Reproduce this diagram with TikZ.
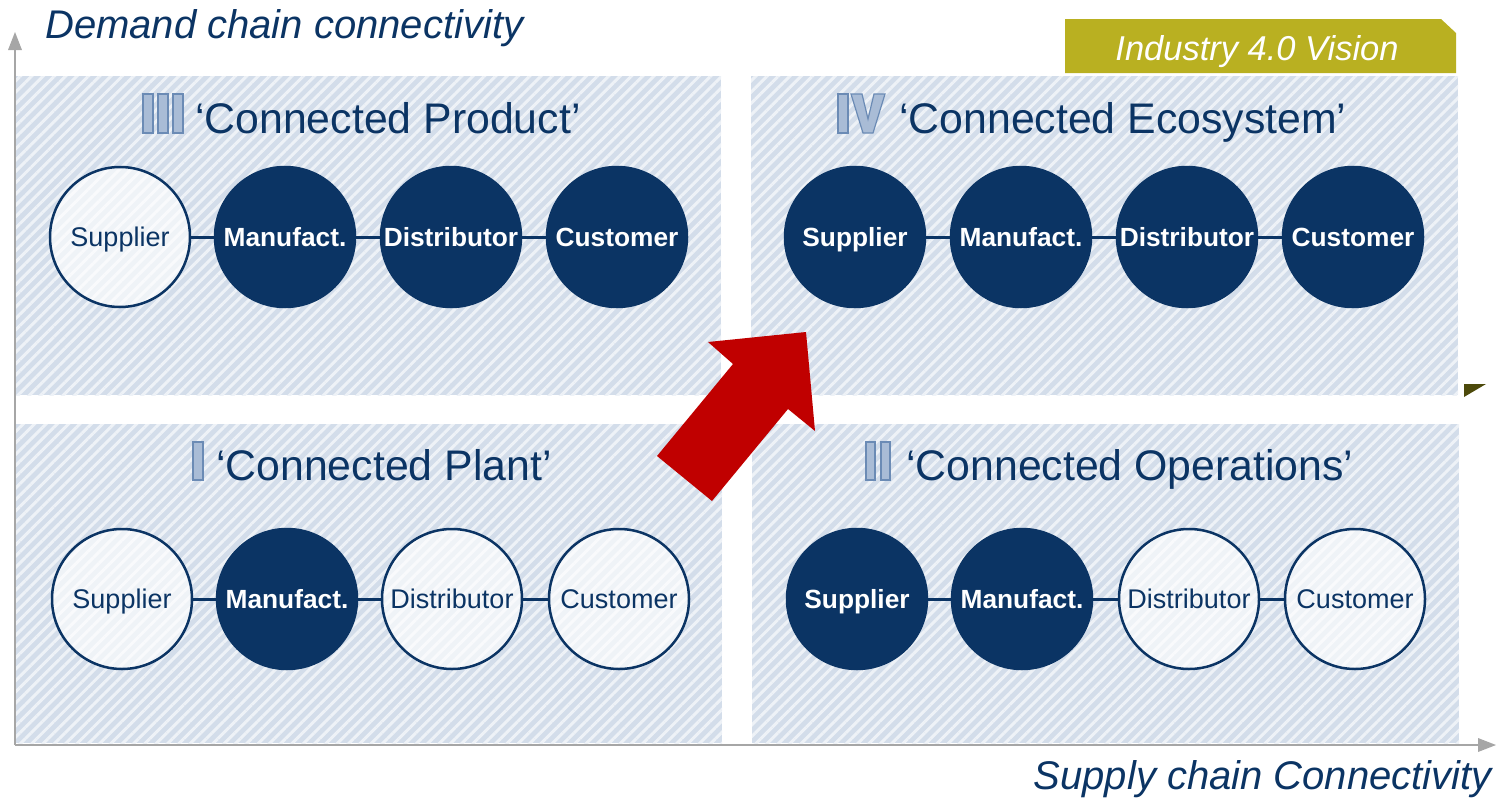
\documentclass[tikz,border=0pt]{standalone}
\usepackage{fontspec}
\setmainfont{Liberation Sans}
\usetikzlibrary{patterns.meta}
\definecolor{navy}{HTML}{0B3464}
\definecolor{panelbg}{HTML}{D3DDEA}
\definecolor{stripe}{HTML}{EEF2F7}
\definecolor{numfill}{HTML}{A9BCD6}
\definecolor{numdraw}{HTML}{6B8BB5}
\definecolor{olive}{HTML}{B9B021}
\definecolor{darkolive}{HTML}{4D4A0B}
\definecolor{axisgray}{HTML}{A6A6A6}
\definecolor{arrowred}{HTML}{C00000}
\tikzset{
  panel/.style={fill=panelbg, postaction={pattern={Lines[angle=45,distance=8pt,line width=3pt]}, pattern color=stripe}},
  offc/.style={circle, minimum size=140pt, inner sep=0pt, text height=19pt, text depth=0pt, draw=navy, line width=2.5pt, fill=white, fill opacity=0.65, text opacity=1, text=navy, font=\fontsize{27}{30}\selectfont},
  onc/.style={circle, minimum size=140pt, inner sep=0pt, text height=19pt, text depth=0pt, draw=navy, line width=2.5pt, fill=navy, text=white, font=\fontsize{26.3}{30}\selectfont\bfseries},
  link/.style={draw=navy, line width=3pt},
  numeral/.style={fill=numfill, draw=numdraw, line width=1.2pt},
  qtitle/.style={anchor=base west, inner sep=0pt, text=navy, font=\fontsize{42.8}{48}\selectfont},
  axlabel/.style={inner sep=0pt, text=navy, font=\fontsize{40}{46}\selectfont\itshape},
  axis/.style={draw=axisgray, line width=2pt},
}
\begin{document}
\begin{tikzpicture}[x=1pt,y=-1pt]
\useasboundingbox (0,0) rectangle (1500,798);
% panels
\path[panel] (16,76) rectangle (721,395);
\path[panel] (751,76) rectangle (1458,395);
\path[panel] (16,424) rectangle (722,743);
\path[panel] (752,424) rectangle (1459,743);
% axes
\coordinate (o) at (15,745);
\coordinate (ytip) at (15,32);
\coordinate (xtip) at (1496,745);
\draw[axis] (o) -- (15,50);
\fill[axisgray] (ytip) -- (8,50) -- (22,50) -- cycle;
\draw[axis] (o) -- (1478,745);
\fill[axisgray] (xtip) -- (1478,738) -- (1478,752) -- cycle;
\node[axlabel, anchor=base west] (ylab) at (45,38) {Demand chain connectivity};
\node[axlabel, anchor=base east] (xlab) at (1492,789) {Supply chain Connectivity};
% banner
\fill[olive] (1065,19) -- (1441,19) -- (1456,33) -- (1456,73) -- (1065,73) -- cycle;
\node[anchor=base, inner sep=0pt, text=white, font=\fontsize{34.5}{40}\selectfont\itshape] (banner) at (1257,60) {Industry 4.0 Vision};
\fill[darkolive] (1464,384) -- (1486,384) -- (1464,397) -- cycle;
% numerals
\foreach \x in {143,158,173} \path[numeral] (\x,94) rectangle ++(10,39);
\path[numeral] (838,94) rectangle (848,133);
\path[numeral] (851,94) -- (862,94) -- (868,119) -- (874,94) -- (885,94) -- (873,133) -- (863,133) -- cycle;
\path[numeral] (193,442) rectangle (203,480);
\path[numeral] (866,442) rectangle (875,480);
\path[numeral] (881,442) rectangle (890,480);
% titles
\node[qtitle] (t3) at (195,133) {‘Connected Product’};
\node[qtitle] (t4) at (899,133) {‘Connected Ecosystem’};
\node[qtitle] (t1) at (216,480) {‘Connected Plant’};
\node[qtitle] (t2) at (906,480) {‘Connected Operations’};
% row III
\node[offc] (a1) at (120,237) {Supplier};
\node[onc] (a2) at (285,237) {Manufact.};
\node[onc] (a3) at (451,237) {Distributor};
\node[onc] (a4) at (617,237) {Customer};
% row IV
\node[onc] (b1) at (855,237) {Supplier};
\node[onc] (b2) at (1021,237) {Manufact.};
\node[onc] (b3) at (1187,237) {Distributor};
\node[onc] (b4) at (1353,237) {Customer};
% row I
\node[offc] (c1) at (122,599) {Supplier};
\node[onc] (c2) at (287,599) {Manufact.};
\node[offc] (c3) at (452,599) {Distributor};
\node[offc] (c4) at (619,599) {Customer};
% row II
\node[onc] (d1) at (857,599) {Supplier};
\node[onc] (d2) at (1022,599) {Manufact.};
\node[offc] (d3) at (1189,599) {Distributor};
\node[offc] (d4) at (1355,599) {Customer};
\foreach \r in {a,b,c,d}{
  \draw[link] (\r1) -- (\r2);
  \draw[link] (\r2) -- (\r3);
  \draw[link] (\r3) -- (\r4);
}
% red arrow
\fill[arrowred] (657,456) -- (733,364) -- (708,342) -- (806,332) -- (815,431) -- (788,409) -- (712,501) -- cycle;
\end{tikzpicture}
\end{document}
